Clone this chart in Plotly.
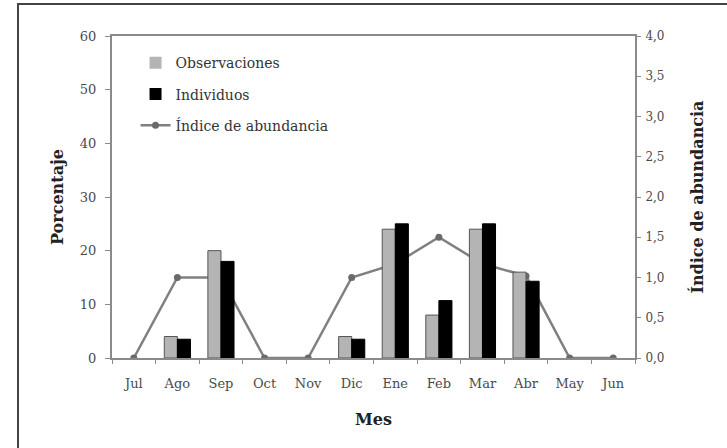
import plotly.graph_objects as go

meses = ["Jul", "Ago", "Sep", "Oct", "Nov", "Dic", "Ene", "Feb", "Mar", "Abr", "May", "Jun"]
observaciones = [0, 4, 20, 0, 0, 4, 24, 8, 24, 16, 0, 0]
individuos = [0, 3.5, 18, 0, 0, 3.5, 25, 10.7, 25, 14.3, 0, 0]
indice = [0, 1.0, 1.0, 0, 0, 1.0, 1.17, 1.5, 1.17, 1.02, 0, 0]

left_ticks = [0, 10, 20, 30, 40, 50, 60]
right_ticks = [0, 0.5, 1.0, 1.5, 2.0, 2.5, 3.0, 3.5, 4.0]
right_labels = ["0,0", "0,5", "1,0", "1,5", "2,0", "2,5", "3,0", "3,5", "4,0"]

FONT = "DejaVu Serif"
AX = "#8a8a8a"
TXT = "#4a4a4a"
TITLE = "#222222"

fig = go.Figure()

# line on primary (right side) axis so that the bars are drawn above it
fig.add_trace(go.Scatter(
    x=meses, y=indice, name="Índice de abundancia", yaxis="y",
    mode="lines+markers", line=dict(color="#808080", width=2.5),
    marker=dict(color="#6a6a6a", size=7), legendgroup="c", legendrank=3,
))
fig.add_trace(go.Bar(
    x=meses, y=observaciones, name="Observaciones", yaxis="y2",
    marker=dict(color="#b4b4b4",
                line=dict(color="#555555", width=[1 if v else 0 for v in observaciones])),
    legendgroup="a", legendrank=1,
))
fig.add_trace(go.Bar(
    x=meses, y=individuos, name="Individuos", yaxis="y2",
    marker=dict(color="#000000",
                line=dict(color="#000000", width=[1 if v else 0 for v in individuos])),
    legendgroup="b", legendrank=2,
))

fig.update_layout(
    width=727, height=448,
    margin=dict(l=112, r=92, t=36, b=90),
    paper_bgcolor="white", plot_bgcolor="white",
    barmode="group", bargap=0.4, bargroupgap=0,
    font=dict(family=FONT, size=13, color=TXT),
    showlegend=True,
    legend=dict(x=0.045, y=0.965, xanchor="left", yanchor="top",
                bgcolor="rgba(0,0,0,0)", font=dict(family=FONT, size=14, color="#333333"),
                tracegroupgap=10, traceorder="grouped"),
    xaxis=dict(
        type="category", range=[-0.5, 11.5], showline=True, linecolor=AX, linewidth=2, mirror=True,
        ticks="outside", ticklen=4, tickcolor=AX, tickson="boundaries", ticklabelstandoff=12,
        showgrid=False, tickfont=dict(family=FONT, size=13, color=TXT),
        title=dict(text="<b>Mes</b>", font=dict(family=FONT, size=16, color=TITLE), standoff=24),
    ),
    yaxis=dict(
        side="right", range=[0, 4], tickvals=right_ticks, ticktext=right_labels,
        showline=True, linecolor=AX, linewidth=2, ticks="outside", ticklen=4,
        tickcolor=AX, showgrid=False, zeroline=False, ticklabelstandoff=2,
        tickfont=dict(family=FONT, size=12, color=TXT),
        title=dict(text="<b>Índice de abundancia</b>", font=dict(family=FONT, size=16, color=TITLE), standoff=28),
    ),
    yaxis2=dict(
        side="left", overlaying="y", range=[0, 60], tickvals=left_ticks,
        showline=True, linecolor=AX, linewidth=2, ticks="outside", ticklen=5,
        tickcolor=AX, showgrid=False, zeroline=False, ticklabelstandoff=6,
        tickfont=dict(family=FONT, size=13, color=TXT),
        title=dict(text="<b>Porcentaje</b>", font=dict(family=FONT, size=16, color=TITLE), standoff=12),
    ),
)

# outer frame of the figure
fig.add_shape(type="rect", xref="paper", yref="paper",
              x0=(18 - 112) / 523, x1=(740 - 112) / 523,
              y0=(358 - 460) / 322, y1=(358 - 4) / 322,
              line=dict(color="#444444", width=2), fillcolor="rgba(0,0,0,0)", layer="below")

fig.write_html("out.html", config={"displayModeBar": False},
               post_script="document.body.style.margin='0px';")
